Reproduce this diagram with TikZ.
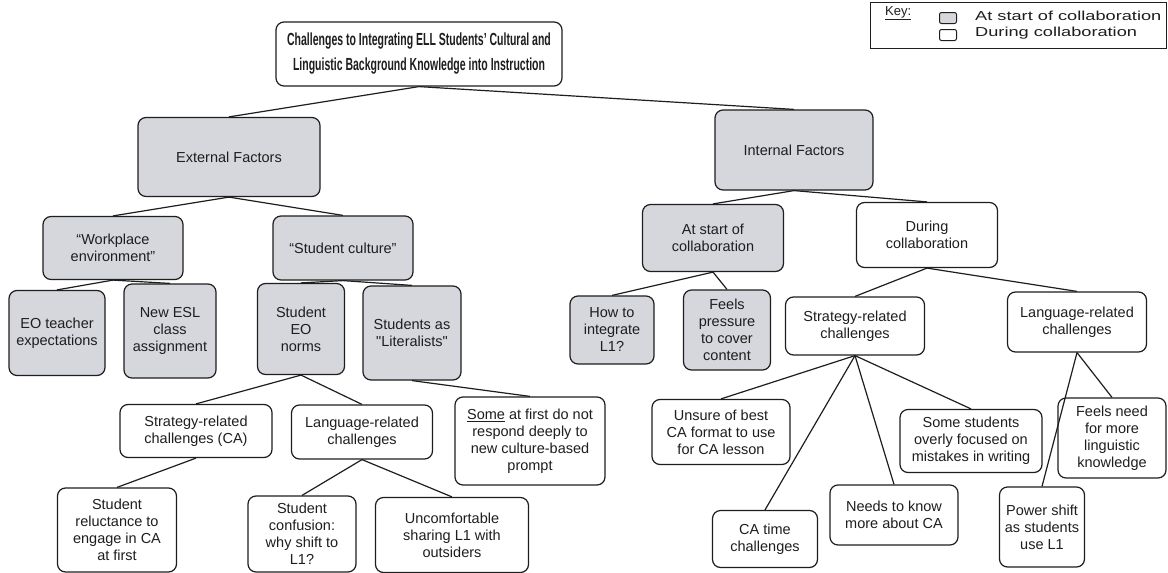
\documentclass[tikz,border=0pt]{standalone}
\usepackage{fontspec}
\setmainfont{Liberation Sans}
\newfontfamily\titlefont{Liberation Sans}[FakeStretch=0.6]
\newfontfamily\keyfont{Liberation Sans}[FakeStretch=1.4]
\definecolor{gfill}{RGB}{214,214,221}
\definecolor{ink}{RGB}{30,30,30}
\begin{document}
\begin{tikzpicture}[x=1pt,y=-1pt,
  every node/.style={text=ink},
  bx/.style={draw=ink, line width=1.2pt, rounded corners=8pt, align=center, inner sep=2pt,
    font=\fontsize{14.5}{17}\selectfont},
  gbx/.style={bx, fill=gfill},
  wbx/.style={bx, fill=white},
  lnk/.style={draw=ink, line width=1.2pt},
  keytxt/.style={anchor=west, inner sep=0pt, font=\keyfont\fontsize{13}{15}\selectfont},
  swatch/.style={draw=ink, line width=1pt, rounded corners=2pt, minimum width=17, minimum height=11, inner sep=0pt}
]
\useasboundingbox (0,0) rectangle (1168,573);
\fill[white] (0,0) rectangle (1168,573);

% title
\node[wbx, minimum width=286, minimum height=64, font=\titlefont\bfseries\fontsize{17.5}{25}\selectfont] (title) at (419,54)
  {Challenges to Integrating ELL Students’ Cultural and\\Linguistic Background Knowledge into Instruction};

% key
\node[draw=ink, line width=1pt, minimum width=296, minimum height=46, inner sep=0pt] (key) at (1018,25) {};
\node[anchor=west, inner sep=0pt, font=\fontsize{13}{15}\selectfont] (keylbl) at (885,13) {\underline{Key:}};
\node[swatch, fill=gfill] (sw1) at (948,18) {};
\node[swatch, fill=white] (sw2) at (948,35) {};
\node[keytxt] (k1) at (975,16) {At start of collaboration};
\node[keytxt] (k2) at (975,33) {During collaboration};

% level 1
\node[gbx, minimum width=182, minimum height=79] (ext) at (229,157) {External Factors};
\node[gbx, minimum width=158, minimum height=80] (int) at (794,150) {Internal Factors};

% left subtree
\node[gbx, minimum width=140, minimum height=63] (work) at (113,248) {“Workplace\\environment”};
\node[gbx, minimum width=140, minimum height=64] (sc) at (343,248) {“Student culture”};
\node[gbx, minimum width=96, minimum height=85] (eot) at (57,333) {EO teacher\\expectations};
\node[gbx, minimum width=92, minimum height=94] (nesl) at (170,331) {New ESL\\class\\assignment};
\node[gbx, minimum width=87, minimum height=91] (seon) at (301,329) {Student\\EO\\norms};
\node[gbx, minimum width=98, minimum height=94] (lit) at (412,333) {Students as\\\textquotedbl Literalists\textquotedbl};
\node[wbx, minimum width=152, minimum height=53] (lstrat) at (196,431) {Strategy-related\\challenges (CA)};
\node[wbx, minimum width=141, minimum height=54] (llang) at (362,432) {Language-related\\challenges};
\node[wbx, minimum width=150, minimum height=88] (some) at (530,441) {\underline{Some} at first do not\\respond deeply to\\new culture-based\\prompt};
\node[wbx, minimum width=119, minimum height=84] (reluct) at (117,530) {Student\\reluctance to\\engage in CA\\at first};
\node[wbx, minimum width=108, minimum height=76] (conf) at (302,534) {Student\\confusion:\\why shift to\\L1?};
\node[wbx, minimum width=153, minimum height=75] (uncomf) at (452,535) {Uncomfortable\\sharing L1 with\\outsiders};

% right subtree
\node[gbx, minimum width=141, minimum height=67] (atstart) at (713,238) {At start of\\collaboration};
\node[wbx, minimum width=141, minimum height=65] (during) at (927,235) {During\\collaboration};
\node[gbx, minimum width=84, minimum height=68] (howto) at (612,330) {How to\\integrate\\L1?};
\node[gbx, minimum width=87, minimum height=80] (feels) at (727,330) {Feels\\pressure\\to cover\\content};
\node[wbx, minimum width=139, minimum height=58] (rstrat) at (855,326) {Strategy-related\\challenges};
\node[wbx, minimum width=139, minimum height=60] (rlang) at (1077,322) {Language-related\\challenges};
\node[wbx, minimum width=138, minimum height=65] (unsure) at (721,432) {Unsure of best\\CA format to use\\for CA lesson};
\node[wbx, minimum width=142, minimum height=63] (somest) at (971,441) {Some students\\overly focused on\\mistakes in writing};
\node[wbx, minimum width=108, minimum height=80] (feelsneed) at (1112,438) {Feels need\\for more\\linguistic\\knowledge};
\node[wbx, minimum width=105, minimum height=57] (catime) at (765,539) {CA time\\challenges};
\node[wbx, minimum width=128, minimum height=60] (needs) at (894,515) {Needs to know\\more about CA};
\node[wbx, minimum width=85, minimum height=80] (power) at (1042,527) {Power shift\\as students\\use L1};

% connectors
\foreach \a/\b in {title/ext, title/int, ext/work, ext/sc, work/eot, work/nesl, sc/seon, sc/lit,
  seon/lstrat, seon/llang, lit/some, lstrat/reluct, llang/conf, llang/uncomf,
  int/atstart, int/during, atstart/howto, atstart/feels, during/rstrat, during/rlang,
  rstrat/unsure, rstrat/catime, rstrat/needs, rstrat/somest, rlang/power, rlang/feelsneed}
  \draw[lnk] (\a.south) -- (\b.north);
\end{tikzpicture}
\end{document}
